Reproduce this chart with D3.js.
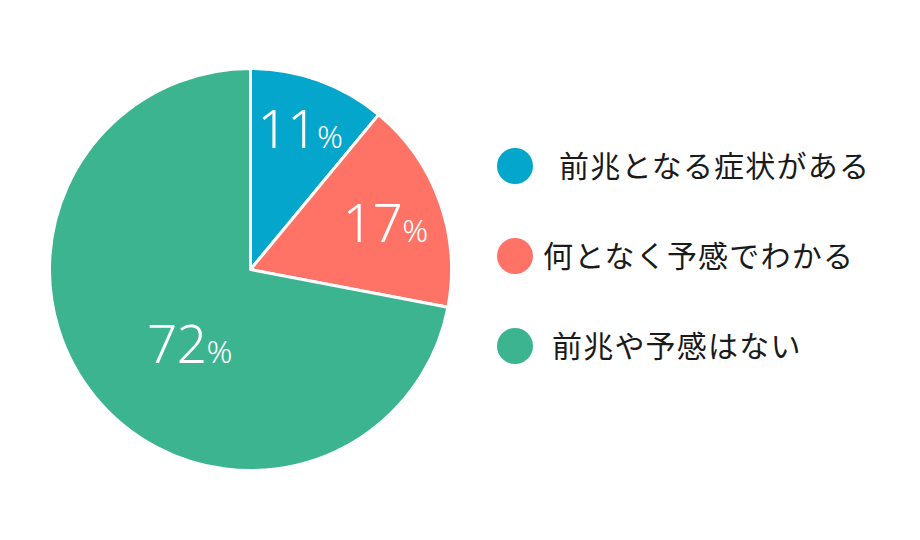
<!DOCTYPE html>
<html><head><meta charset="utf-8">
<script src="https://cdn.jsdelivr.net/npm/d3@7"></script>
<style>
body{margin:0;background:#fff;}
svg{display:block;}
</style></head>
<body>
<svg id="chart" width="920" height="540"></svg>
<script>
const categories = ["前兆となる症状がある", "何となく予感でわかる", "前兆や予感はない"];
const values = [11, 17, 72];
const colors = ["#05a6cc", "#ff7367", "#3cb48f"];
const legendIndent = [16, 0, 9];

const svg = d3.select("#chart");
const cx = 250.5, cy = 269.5, R = 201;
const g = svg.append("g").attr("transform", `translate(${cx},${cy})`);

const pie = d3.pie().sort(null).value(d => d)(values);
const arc = d3.arc().innerRadius(0).outerRadius(R);

g.selectAll("path.slice").data(pie).enter().append("path")
  .attr("class", "slice")
  .attr("d", arc)
  .attr("fill", (d, i) => colors[i])
  .attr("stroke", "#fff")
  .attr("stroke-width", 3)
  .attr("stroke-linejoin", "round");

function labelPos(d, i) {
  let a = (d.startAngle + d.endAngle) / 2;
  let r = 147;
  if (i === 1) { a = a + 0.03; r = 142; }
  if (i === 2) { a = a - 0.21; r = 98; }
  return [Math.sin(a) * r, -Math.cos(a) * r];
}

const labels = g.selectAll("text.lbl").data(pie).enter().append("text")
  .attr("class", "lbl")
  .attr("text-anchor", "middle")
  .attr("fill", "#fff")
  .attr("font-family", "'Noto Sans', 'Noto Sans CJK JP', sans-serif")
  .attr("font-weight", 300)
  .attr("x", (d, i) => labelPos(d, i)[0])
  .attr("y", (d, i) => labelPos(d, i)[1] + 17);
labels.append("tspan").attr("font-size", 53).attr("letter-spacing", -0.5).text(d => d.data);
labels.append("tspan").attr("font-size", 32).text("%");

const legend = svg.append("g").attr("transform", "translate(515,0)");
const ly = d3.scalePoint().domain(categories).range([166, 346]);
const items = legend.selectAll("g.item").data(categories).enter().append("g")
  .attr("class", "item")
  .attr("transform", d => `translate(0,${ly(d)})`);
items.append("circle").attr("r", 18).attr("fill", (d, i) => colors[i]);
items.append("text")
  .attr("x", (d, i) => 28 + legendIndent[i])
  .attr("y", 11)
  .attr("font-family", "'Noto Sans CJK JP', sans-serif")
  .attr("font-size", 30)
  .attr("letter-spacing", 1.2)
  .attr("fill", "#1a1a1a")
  .text(d => d);
</script>
</body></html>
